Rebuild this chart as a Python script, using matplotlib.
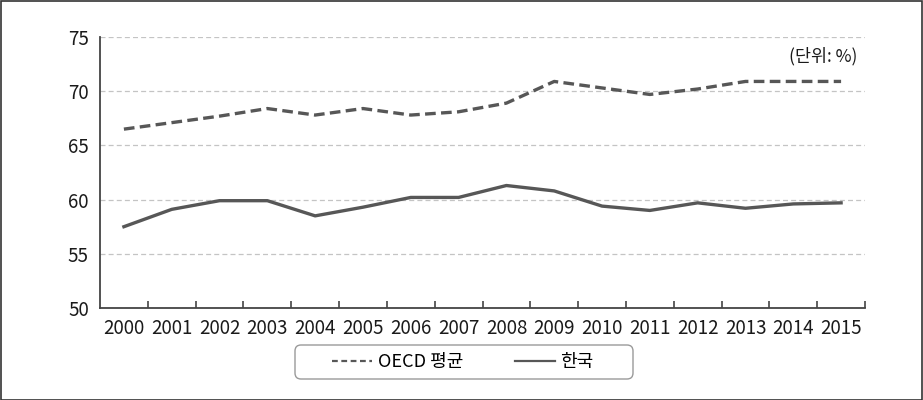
import matplotlib.pyplot as plt
from matplotlib.patches import Rectangle, FancyBboxPatch

plt.rcParams['font.family'] = ['Noto Sans CJK KR', 'DejaVu Sans']

years = list(range(2000, 2016))
oecd = [66.5, 67.1, 67.7, 68.4, 67.8, 68.4, 67.8, 68.1, 68.9, 70.9,
        70.3, 69.7, 70.2, 70.9, 70.9, 70.9]
korea = [57.5, 59.1, 59.9, 59.9, 58.5, 59.3, 60.2, 60.2, 61.3, 60.8,
         59.4, 59.0, 59.7, 59.2, 59.6, 59.7]
yticks = [50, 55, 60, 65, 70, 75]

fig = plt.figure(figsize=(9.23, 4.0), dpi=100)
ax = fig.add_axes([100 / 923, 1 - 308 / 400, 765 / 923, 271 / 400])

line_col = '#575757'
ax.plot(years, oecd, color=line_col, lw=2.4, dashes=(3.2, 1.6),
        label='OECD 평균')
ax.plot(years, korea, color=line_col, lw=2.4, label='한국')

ax.set_xlim(years[0] - 0.5, years[-1] + 0.5)
ax.set_ylim(50, 75)
ax.set_yticks(yticks)
ax.set_xticks(years)
ax.set_xticks([y + 0.5 for y in years], minor=True)
ax.tick_params(axis='x', which='major', length=0, labelsize=13.5, pad=7,
               colors='#1a1a1a')
ax.tick_params(axis='x', which='minor', length=5, direction='in',
               color='#444444', width=1.2)
ax.tick_params(axis='y', length=0, labelsize=13.5, pad=8, colors='#1a1a1a')

ax.grid(axis='y', color='#c4c4c4', ls=(0, (4, 2.5)), lw=0.9)
ax.set_axisbelow(True)
for s in ['top', 'right']:
    ax.spines[s].set_visible(False)
for s in ['left', 'bottom']:
    ax.spines[s].set_color('#444444')
    ax.spines[s].set_linewidth(1.3)

ax.text(0.99, 0.93, '(단위: %)', transform=ax.transAxes, ha='right',
        va='center', fontsize=12.5, color='#1a1a1a')

# legend without its own frame, rounded box drawn separately
leg = fig.legend(loc='center', bbox_to_anchor=(463 / 923, 1 - 362 / 400),
                 ncol=2, fontsize=13, frameon=False,
                 handlelength=2.2, handletextpad=0.3, columnspacing=2.9)
hl = leg.get_lines()
for h in hl:
    h.set_linewidth(1.6)
hl[0].set_dashes((2.6, 1.6))
fig.patches.append(FancyBboxPatch((2.95, 0.21), 3.38, 0.34,
                                  boxstyle='round,pad=0,rounding_size=0.06',
                                  transform=fig.dpi_scale_trans, fill=False,
                                  edgecolor='#9a9a9a', lw=1.0))

fig.patches.append(Rectangle((0.001, 0.001), 0.998, 0.997,
                             transform=fig.transFigure, fill=False,
                             edgecolor='#333333', lw=1.2))

fig.savefig('out.png', dpi=100)
